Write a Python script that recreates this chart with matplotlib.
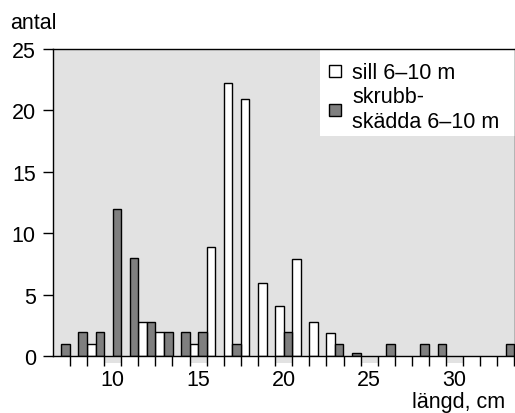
#!/usr/bin/env python3
"""Length distribution of sill and skrubbskädda at 6-10 m, paired bars per cm class."""

import matplotlib

matplotlib.use("Agg")
import matplotlib.pyplot as plt
import numpy as np
from matplotlib.lines import Line2D
from matplotlib.patches import Rectangle

# length class (cm) and counts per class
lengths = np.arange(7, 34)
sill = [0, 0, 1, 0, 0, 2.8, 2, 0, 1, 8.9, 22.2, 20.9, 6, 4.1, 7.9, 2.8, 1.9,
        0, 0, 0, 0, 0, 0, 0, 0, 0, 0]
skrubbskadda = [1, 2, 2, 12, 8, 2.8, 2, 2, 2, 0, 1, 0, 0, 2, 0, 0, 1,
                0.25, 0, 1, 0, 1, 1, 0, 0, 0, 1]
x_labels = [10, 15, 20, 25, 30]
y_ticks = [0, 5, 10, 15, 20, 25]

SILL_LABEL = "sill 6\u201310 m"
SKR_LABEL = "skrubb-\nsk\u00e4dda 6\u201310 m"

BG_COLOR = "#e2e2e2"
SKR_COLOR = "#7f7f7f"
FONT_SIZE = 15.5

plt.rcParams.update(
    {
        "font.family": "sans-serif",
        "font.sans-serif": ["Liberation Sans", "Arial", "DejaVu Sans"],
        "font.size": FONT_SIZE,
    }
)

fig = plt.figure(figsize=(5.15, 4.14), dpi=100)
ax = fig.add_axes([52.8 / 515, 1 - 357.3 / 414, (514.5 - 52.8) / 515, (357.3 - 50) / 414])
ax.set_facecolor(BG_COLOR)

sill_arr = np.asarray(sill, dtype=float)
skr_arr = np.asarray(skrubbskadda, dtype=float)
m1 = sill_arr > 0
m2 = skr_arr > 0
ax.bar(lengths[m1] - 0.25, sill_arr[m1], width=0.5, color="white", edgecolor="black", linewidth=1.0, zorder=2)
ax.bar(lengths[m2] + 0.25, skr_arr[m2], width=0.5, color=SKR_COLOR, edgecolor="black", linewidth=1.0, zorder=2)

ax.set_xlim(lengths[0] - 0.5, lengths[-1] + 0.5)
ax.set_ylim(0, 25)

# class boundaries carry the tick marks, labels sit in the class centre
ax.set_xticks(lengths + 0.5, minor=True)
ax.set_xticks(x_labels)
ax.set_xticklabels([str(v) for v in x_labels])
ax.tick_params(axis="x", which="major", length=0, pad=9.0, labelsize=FONT_SIZE)
ax.tick_params(axis="x", which="minor", length=7, width=1.0, direction="out")
ax.set_yticks(y_ticks)
ax.tick_params(axis="y", length=7.2, width=1.0, pad=5.0, labelsize=FONT_SIZE)

for side in ["left", "bottom", "top", "right"]:
    ax.spines[side].set_linewidth(1.0)

# stippled patch under each labelled class
for v in x_labels:
    ax.add_patch(
        Rectangle((v - 0.5, -0.022), 1.0, 0.02, transform=ax.get_xaxis_transform(),
                  facecolor=BG_COLOR, edgecolor="none", clip_on=False, zorder=1)
    )

# white legend field
ax.add_patch(Rectangle((0.578, 0.717), 0.43, 0.29, transform=ax.transAxes,
                       facecolor="white", edgecolor="none", zorder=1.5))
handles = [
    Line2D([0], [0], marker="s", linestyle="none", markersize=8, markerfacecolor="white",
           markeredgecolor="black", markeredgewidth=1.0, label=SILL_LABEL),
    Line2D([0], [0], marker="s", linestyle="none", markersize=8, markerfacecolor=SKR_COLOR,
           markeredgecolor="black", markeredgewidth=1.0, label=SKR_LABEL),
]
ax.legend(handles=handles, loc="upper left", bbox_to_anchor=(0.578, 0.978), frameon=False,
          fontsize=FONT_SIZE, handlelength=0.8, handletextpad=0.4, borderpad=0.3,
          labelspacing=0.15, borderaxespad=0.0)

fig.text(10 / 515, 1 - 29.3 / 414, "antal", ha="left", va="baseline", fontsize=FONT_SIZE)
fig.text(505 / 515, 1 - 408.3 / 414, "l\u00e4ngd, cm", ha="right", va="baseline", fontsize=FONT_SIZE)

fig.savefig("out.png", dpi=100)
